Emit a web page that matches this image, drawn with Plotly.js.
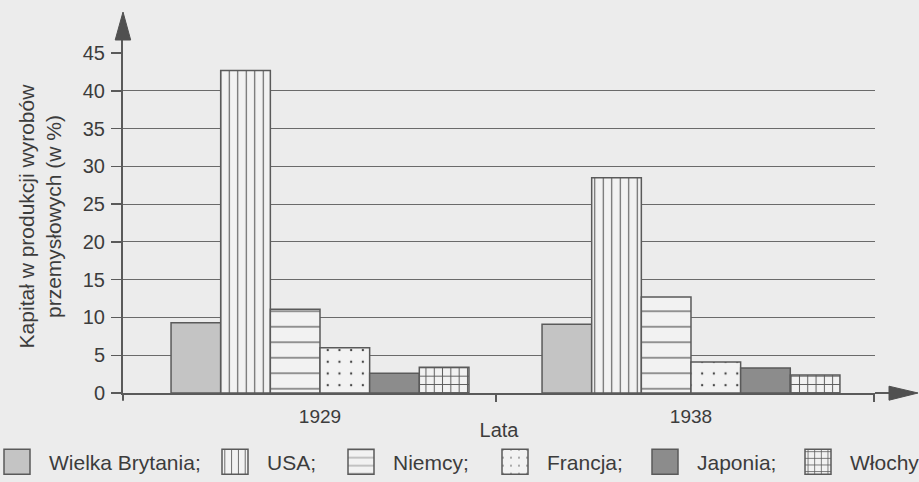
<!DOCTYPE html>
<html>
<head>
<meta charset="utf-8">
<script src="https://cdn.plot.ly/plotly-3.0.1.min.js"></script>
<style>html,body{margin:0;padding:0;background:#ececec;}</style>
</head>
<body>
<div id="chart" style="width:919px;height:482px;"></div>
<script>
// ---- data ----
const years = ['1929', '1938'];
const countries = ['Wielka Brytania;', 'USA;', 'Niemcy;', 'Francja;', 'Japonia;', 'Włochy'];
const wielkaBrytania = [9.3, 9.1];
const usa = [42.7, 28.5];
const niemcy = [11.1, 12.7];
const francja = [6.0, 4.1];
const japonia = [2.6, 3.3];
const wlochy = [3.4, 2.4];
const yTicks = [0, 5, 10, 15, 20, 25, 30, 35, 40, 45];
const gridTicks = [5, 10, 15, 20, 25, 30, 35, 40];
const seriesValues = [wielkaBrytania, usa, niemcy, francja, japonia, wlochy];

// ---- styles ----
const lineCol = '#5a5a5a';
const textCol = '#3c3c3c';
const bg = '#ececec';
const barBg = '#f2f2f2';
const styles = [
  {color: '#c4c4c4'},
  {color: barBg, pattern: {shape: '|', size: 8.5, solidity: 0.13, fgcolor: lineCol, bgcolor: barBg}},
  {color: barBg, pattern: {shape: '-', size: 15.5, solidity: 0.08, fgcolor: lineCol, bgcolor: barBg}},
  {color: barBg, pattern: {shape: '.', size: 11.7, solidity: 0.03, fgcolor: '#444', bgcolor: barBg}},
  {color: '#8c8c8c'},
  {color: barBg, pattern: {shape: '+', size: 8.3, solidity: 0.22, fgcolor: lineCol, bgcolor: barBg}}
];
// legend text left positions (px) in the container
const legendTextX = [49, 267, 393, 547, 697, 850];
const W = 919, H = 482;

const xIdx = years.map((_, i) => i);
const traces = countries.map((name, k) => ({
  type: 'bar',
  name: name,
  x: xIdx,
  y: seriesValues[k],
  marker: Object.assign({line: {color: lineCol, width: 1.5}}, styles[k]),
  legend: k === 0 ? 'legend' : 'legend' + (k + 1),
  hoverinfo: 'skip'
}));
// empty trace to carry the gridline axis
traces.push({type: 'bar', x: [], y: [], yaxis: 'y2', showlegend: false, hoverinfo: 'skip'});

const font = {family: 'Liberation Sans, Arial, sans-serif', color: textCol};
const L = 123.3, R = 875, T = 40, B = 393.3;
const pw = R - L, ph = B - T;
const px = v => (v - L) / pw;
const py = v => (B - v) / ph;

const layout = {
  width: W, height: H,
  margin: {l: L, r: W - R, t: T, b: H - B},
  paper_bgcolor: bg,
  plot_bgcolor: 'rgba(0,0,0,0)',
  font: Object.assign({size: 18}, font),
  barmode: 'group',
  bargap: 0.197,
  bargroupgap: 0,
  xaxis: {
    type: 'linear',
    range: [-0.531, 1.496],
    tickmode: 'array', tickvals: xIdx, ticktext: years,
    ticks: '', showgrid: false, zeroline: false,
    showline: true, linecolor: lineCol, linewidth: 2,
    tickfont: Object.assign({size: 19}, font),
    ticklabelstandoff: 5,
    minor: {tickmode: 'array', tickvals: [0.474, 1.493], ticks: 'outside', ticklen: 7, tickwidth: 2, tickcolor: lineCol, showgrid: false},
    title: {text: 'Lata', font: Object.assign({size: 20}, font), standoff: 2}
  },
  yaxis: {
    range: [0, 46.75],
    tickmode: 'array', tickvals: yTicks,
    ticks: 'outside', ticklen: 10, tickwidth: 1.5, tickcolor: lineCol,
    showgrid: false, zeroline: false,
    showline: true, linecolor: lineCol, linewidth: 2,
    tickfont: Object.assign({size: 20}, font),
    ticklabelstandoff: 2,
    title: {text: 'Kapitał w produkcji wyrobów<br>przemysłowych (w %)', font: Object.assign({size: 21}, font), standoff: 15}
  },
  yaxis2: {
    overlaying: 'y', range: [0, 46.75],
    tickmode: 'array', tickvals: gridTicks,
    showgrid: true, gridcolor: '#6a6a6a', gridwidth: 1,
    showticklabels: false, ticks: '', zeroline: false, showline: false
  },
  shapes: [
    {type: 'line', xref: 'paper', yref: 'paper', x0: 0, x1: 0, y0: 0, y1: py(401), line: {color: lineCol, width: 2}},
    {type: 'line', xref: 'paper', yref: 'paper', x0: 1, x1: px(892), y0: 0, y1: 0, line: {color: lineCol, width: 2}},
    {type: 'path', xref: 'paper', yref: 'paper',
     path: `M ${px(889)} ${py(386.5)} L ${px(918)} ${py(393.3)} L ${px(889)} ${py(400.5)} Z`,
     fillcolor: '#505050', line: {color: '#505050', width: 1}},
    {type: 'path', xref: 'paper', yref: 'paper',
     path: `M ${px(115.5)} ${py(40)} L ${px(123.3)} ${py(12)} L ${px(131)} ${py(40)} Z`,
     fillcolor: '#505050', line: {color: '#505050', width: 1}}
  ],
  showlegend: true
};
countries.forEach((_, k) => {
  const key = k === 0 ? 'legend' : 'legend' + (k + 1);
  layout[key] = {
    xref: 'container', yref: 'container',
    x: (legendTextX[k] - 40) / W, y: (H - 462) / H,
    xanchor: 'left', yanchor: 'middle',
    orientation: 'h', bgcolor: 'rgba(0,0,0,0)', borderwidth: 0,
    maxheight: 0.5,
    font: Object.assign({size: 21}, font)
  };
});

// enlarge the legend keys to the reference's bigger boxes (pattern scale unchanged)
function bigIcons() {
  document.querySelectorAll('g.scrollbox').forEach(el => el.removeAttribute('clip-path'));
  document.querySelectorAll('g.legendpoints path').forEach(p => {
    if (!p.hasAttribute('data-orig-tf')) {
      p.setAttribute('data-orig-tf', p.getAttribute('transform') || '');
    }
    const orig = p.getAttribute('data-orig-tf');
    p.setAttribute('transform', orig + ' translate(-12,0)');
    p.setAttribute('d', 'M13,12.5H-13V-12.5H13Z');
    p.style.strokeWidth = '1.5px';
  });
}
const gd = document.getElementById('chart');
Plotly.newPlot(gd, traces, layout, {displayModeBar: false, staticPlot: true}).then(() => {
  bigIcons();
  gd.on('plotly_afterplot', bigIcons);
  setTimeout(bigIcons, 50);
});
</script>
</body>
</html>
